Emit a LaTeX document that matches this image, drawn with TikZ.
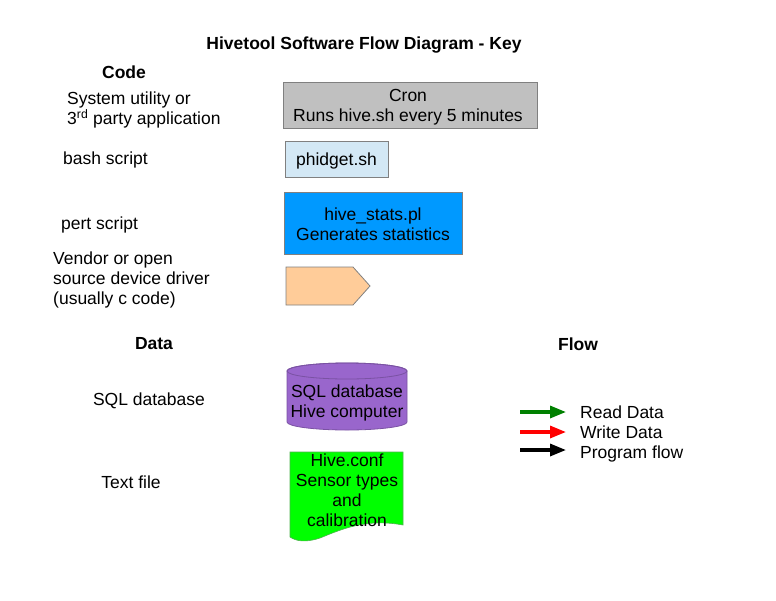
\documentclass[tikz,border=0pt]{standalone}
\usepackage{fontspec}
\setmainfont{Liberation Sans}
\usetikzlibrary{arrows.meta}
\definecolor{crongray}{HTML}{C0C0C0}
\definecolor{shblue}{HTML}{D3E8F5}
\definecolor{plblue}{HTML}{0099FF}
\definecolor{peach}{HTML}{FFCC99}
\definecolor{dbpurple}{HTML}{9966CC}
\definecolor{docgreen}{HTML}{00FF00}
\definecolor{readgreen}{HTML}{008000}
\definecolor{edgegray}{HTML}{808080}
\begin{document}
\begin{tikzpicture}[x=1pt,y=-1pt,
  txt/.style={font=\fontsize{17.5}{20}\selectfont,inner sep=0pt},
  hdr/.style={font=\fontsize{17.5}{20}\selectfont\bfseries,inner sep=0pt},
  keybox/.style={draw=edgegray,line width=0.8pt},
  flowarrow/.style={line width=3.2pt,-{Triangle[length=16pt,width=12pt]}}]
\useasboundingbox (0,0) rectangle (776,600);
% title and headers
\node[hdr] (title) at (364,45) {Hivetool Software Flow Diagram - Key};
\node[hdr] (code) at (124,72) {Code};
\node[hdr] (data) at (154,344) {Data};
\node[hdr] (flow) at (578,344) {Flow};
% left labels
\node[txt,anchor=west,align=left] (l1) at (67,110) {System utility or\\3\textsuperscript{rd} party application};
\node[txt,anchor=west] (l2) at (63,160) {bash script};
\node[txt,anchor=west] (l3) at (61,225) {pert script};
\node[txt,anchor=west,align=left] (l4) at (53,280) {Vendor or open\\source device driver\\(usually c code)};
\node[txt] (l5) at (149,401) {SQL database};
\node[txt] (l6) at (131,482) {Text file};
% code boxes
\draw[keybox,fill=crongray] (283,82) rectangle (537,128);
\node[txt,align=center] (cron) at (408,107) {Cron\\Runs hive.sh every 5 minutes};
\draw[keybox,fill=shblue] (285,141) rectangle (388,177);
\node[txt] (phidget) at (336.5,161) {phidget.sh};
\draw[keybox,fill=plblue] (284,192) rectangle (462,254);
\node[txt,align=center] (stats) at (373,224) {hive\_stats.pl\\Generates statistics};
\draw[keybox,fill=peach] (286,267) -- (353,267) -- (370,286) -- (353,305) -- (286,305) -- cycle;
% database cylinder
\draw[draw=dbpurple!80!black,line width=0.8pt,fill=dbpurple]
  (287,371) -- (287,422) arc[start angle=180,end angle=0,x radius=60,y radius=8]
  -- (407,371) arc[start angle=0,end angle=-180,x radius=60,y radius=8] -- cycle;
\draw[draw=dbpurple!80!black,line width=0.8pt] (347,371) ellipse[x radius=60,y radius=8];
\node[txt,align=center] (db) at (347,403) {SQL database\\Hive computer};
% document
\draw[draw=edgegray!60!docgreen,line width=0.6pt,fill=docgreen]
  (290,452) -- (403,452) -- (403,525)
  .. controls (365,518) and (340,530) .. (320,538)
  .. controls (305,543) and (296,541) .. (290,537) -- cycle;
\node[txt,align=center] (doc) at (347,490) {Hive.conf\\Sensor types\\and\\calibration};
% flow arrows
\coordinate (a1s) at (520,412); \coordinate (a1e) at (566,412);
\coordinate (a2s) at (520,432); \coordinate (a2e) at (566,432);
\coordinate (a3s) at (520,450); \coordinate (a3e) at (566,450);
\draw[flowarrow,readgreen] (a1s) -- (a1e);
\draw[flowarrow,red] (a2s) -- (a2e);
\draw[flowarrow,black] (a3s) -- (a3e);
\node[txt,anchor=west] (f1) at (580,412) {Read Data};
\node[txt,anchor=west] (f2) at (580,432) {Write Data};
\node[txt,anchor=west] (f3) at (580,454) {Program flow};
\end{tikzpicture}
\end{document}
